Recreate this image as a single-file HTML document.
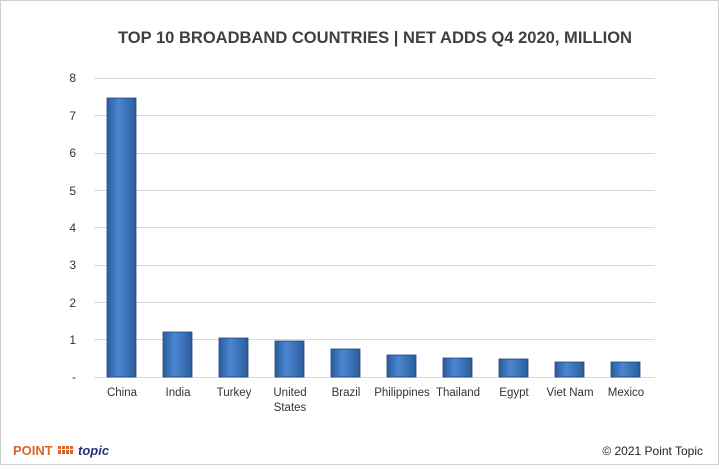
<!DOCTYPE html>
<html><head><style>
body{margin:0;background:#fff}
</style></head><body>
<svg width="719" height="465" xmlns="http://www.w3.org/2000/svg" font-family="Liberation Sans, sans-serif">
<defs>
<linearGradient id="g" x1="0" x2="1" y1="0" y2="0">
<stop offset="0" stop-color="#2a5d9e"/><stop offset="0.4" stop-color="#4a86d0"/><stop offset="1" stop-color="#2b5c9c"/>
</linearGradient>
</defs>
<rect x="0.5" y="0.5" width="718" height="464" fill="#fff" stroke="#d0d0d0"/>
<text x="118" y="43" textLength="514" lengthAdjust="spacingAndGlyphs" font-size="17" font-weight="bold" fill="#404040">TOP 10 BROADBAND COUNTRIES | NET ADDS Q4 2020, MILLION</text>
<g stroke="#d9d9d9" stroke-width="1">
<line x1="94" x2="655" y1="78.5" y2="78.5"/><line x1="94" x2="655" y1="115.5" y2="115.5"/>
<line x1="94" x2="655" y1="153.5" y2="153.5"/><line x1="94" x2="655" y1="190.5" y2="190.5"/>
<line x1="94" x2="655" y1="227.5" y2="227.5"/><line x1="94" x2="655" y1="265.5" y2="265.5"/>
<line x1="94" x2="655" y1="302.5" y2="302.5"/><line x1="94" x2="655" y1="339.5" y2="339.5"/>
<line x1="94" x2="655" y1="377.5" y2="377.5"/>
</g>
<g font-size="12" fill="#333" text-anchor="end">
<text x="76" y="82">8</text><text x="76" y="120">7</text><text x="76" y="157">6</text><text x="76" y="195">5</text>
<text x="76" y="232">4</text><text x="76" y="269">3</text><text x="76" y="307">2</text><text x="76" y="344">1</text><text x="76" y="381">-</text>
</g>
<g fill="url(#g)" stroke="#1f4a80" stroke-width="0.8">
<rect x="107" y="98" width="29" height="279"/>
<rect x="163" y="332" width="29" height="45"/>
<rect x="219" y="338" width="29" height="39"/>
<rect x="275" y="341" width="29" height="36"/>
<rect x="331" y="349" width="29" height="28"/>
<rect x="387" y="355" width="29" height="22"/>
<rect x="443" y="358" width="29" height="19"/>
<rect x="499" y="359" width="29" height="18"/>
<rect x="555" y="362" width="29" height="15"/>
<rect x="611" y="362" width="29" height="15"/>
</g>
<g font-size="11.5" fill="#333" text-anchor="middle">
<text x="122" y="396">China</text><text x="178" y="396">India</text><text x="234" y="396">Turkey</text>
<text x="290" y="396">United</text><text x="290" y="411">States</text>
<text x="346" y="396">Brazil</text><text x="402" y="396">Philippines</text><text x="458" y="396">Thailand</text>
<text x="514" y="396">Egypt</text><text x="570" y="396">Viet Nam</text><text x="626" y="396">Mexico</text>
</g>
<text x="13" y="455" font-size="13" font-weight="bold" fill="#d8662a">POINT</text>
<g fill="#d8662a"><rect x="58" y="446" width="3" height="3"/><rect x="62" y="446" width="3" height="3"/><rect x="66" y="446" width="3" height="3"/>
<rect x="58" y="450" width="3" height="4"/><rect x="62" y="450" width="3" height="4"/><rect x="66" y="450" width="3" height="4"/><rect x="70" y="446" width="3" height="3"/><rect x="70" y="450" width="3" height="4"/></g>
<text x="78" y="455" font-size="13" font-weight="bold" font-style="italic" fill="#2b2f7a">topic</text>
<text x="703" y="455" text-anchor="end" font-size="12" fill="#222">© 2021 Point Topic</text>
</svg>
</body></html>
